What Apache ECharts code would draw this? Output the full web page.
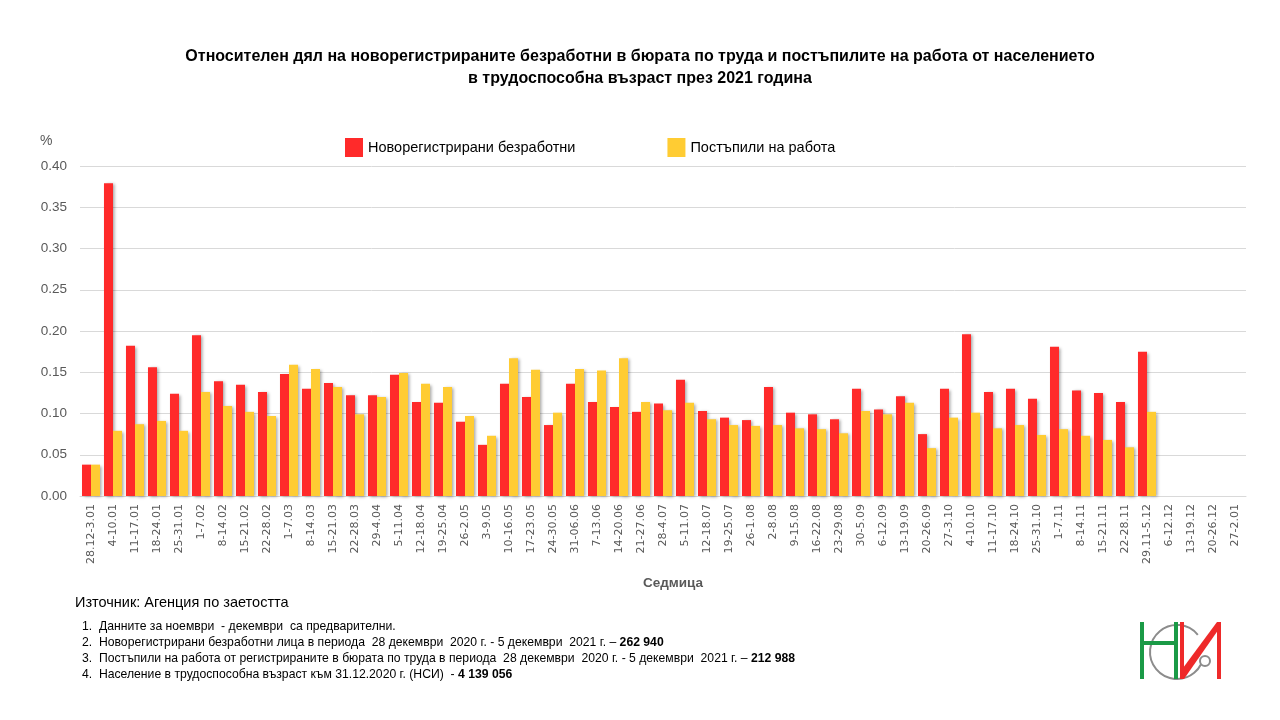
<!DOCTYPE html>
<html><head><meta charset="utf-8">
<script src="https://cdn.jsdelivr.net/npm/echarts@6/dist/echarts.min.js"></script>
<style>html,body{margin:0;padding:0;background:#fff}#c{width:1280px;height:720px}</style>
</head><body><div id="c"></div>
<script>
const categories = ['28.12-3.01','4-10.01','11-17.01','18-24.01','25-31.01','1-7.02','8-14.02','15-21.02','22-28.02','1-7.03','8-14.03','15-21.03','22-28.03','29-4.04','5-11.04','12-18.04','19-25.04','26-2.05','3-9.05','10-16.05','17-23.05','24-30.05','31-06.06','7-13.06','14-20.06','21-27.06','28-4.07','5-11.07','12-18.07','19-25.07','26-1.08','2-8.08','9-15.08','16-22.08','23-29.08','30-5.09','6-12.09','13-19.09','20-26.09','27-3.10','4-10.10','11-17.10','18-24.10','25-31.10','1-7.11','8-14.11','15-21.11','22-28.11','29.11-5.12','6-12.12','13-19.12','20-26.12','27-2.01'];
const unemployed = [0.038,0.379,0.182,0.156,0.124,0.195,0.139,0.135,0.126,0.148,0.130,0.137,0.122,0.122,0.147,0.114,0.113,0.090,0.062,0.136,0.120,0.086,0.136,0.114,0.108,0.102,0.112,0.141,0.103,0.095,0.092,0.132,0.101,0.099,0.093,0.130,0.105,0.121,0.075,0.130,0.196,0.126,0.130,0.118,0.181,0.128,0.125,0.114,0.175,null,null,null,null];
const employed = [0.038,0.079,0.087,0.091,0.079,0.126,0.109,0.102,0.097,0.159,0.154,0.132,0.099,0.120,0.149,0.136,0.132,0.097,0.073,0.167,0.153,0.101,0.154,0.152,0.167,0.114,0.104,0.113,0.093,0.086,0.085,0.086,0.082,0.081,0.076,0.103,0.099,0.113,0.058,0.095,0.101,0.082,0.086,0.074,0.081,0.073,0.068,0.059,0.102,null,null,null,null];
const seriesNames = ['Новорегистрирани безработни','Постъпили на работа'];
const yTicks = [0,0.05,0.10,0.15,0.20,0.25,0.30,0.35,0.40];

const chart = echarts.init(document.getElementById('c'));
const shadow = {shadowColor:'rgba(0,0,0,0.35)',shadowBlur:3,shadowOffsetX:2,shadowOffsetY:1};
const narrow = '"Liberation Sans Narrow","Liberation Sans",sans-serif';
chart.setOption({
  animation:false,
  backgroundColor:'#fff',
  title:{
    text:'Относителен дял на новорегистрираните безработни в бюрата по труда и постъпилите на работа от населението\nв трудоспособна възраст през 2021 година',
    left:'center', top:41,
    textStyle:{fontFamily:'"Liberation Sans",sans-serif',fontWeight:'bold',fontSize:16,color:'#000',lineHeight:22}
  },
  legend:{
    data:seriesNames, top:133, left:340, itemGap:92, itemWidth:18, itemHeight:19, icon:'rect',
    textStyle:{fontFamily:'"Liberation Sans",sans-serif',fontSize:14.5,color:'#000'}
  },
  grid:{left:80,right:34,top:166,bottom:224},
  xAxis:{
    type:'category', data:categories,
    axisLine:{lineStyle:{color:'#d9d9d9'}}, axisTick:{show:false},
    axisLabel:{rotate:90,interval:0,fontSize:11,color:'#595959',fontFamily:'"DejaVu Sans",sans-serif'}
  },
  yAxis:{
    type:'value', min:0, max:0.4, interval:0.05,
    axisLabel:{formatter:v=>v.toFixed(2),fontSize:13.5,color:'#595959',fontFamily:'"Liberation Sans",sans-serif',margin:13},
    splitLine:{lineStyle:{color:'#d9d9d9'}}, axisLine:{show:false}, axisTick:{show:false}
  },
  series:[
    {name:seriesNames[0],type:'bar',data:unemployed,barGap:'0%',barCategoryGap:'18%',itemStyle:Object.assign({color:'#ff2a2a'},shadow)},
    {name:seriesNames[1],type:'bar',data:employed,itemStyle:Object.assign({color:'#ffcc33'},shadow)}
  ],
  graphic:[
    {type:'text',left:40,top:134,style:{text:'%',fontSize:14,fill:'#595959',fontFamily:'"Liberation Sans",sans-serif'}},
    {type:'text',left:643,top:576,style:{text:'Седмица',fontSize:13.5,fontWeight:'bold',fill:'#595959',fontFamily:'"Liberation Sans",sans-serif'}},
    {type:'text',left:75,top:595,style:{text:'Източник: Агенция по заетостта',fontSize:14.5,fill:'#000',fontFamily:'"Liberation Sans",sans-serif'}},
    {type:'text',left:82,top:618,style:{
      text:'1.  Данните за ноември  - декември  са предварителни.\n'+
           '2.  Новорегистрирани безработни лица в периода  28 декември  2020 г. - 5 декември  2021 г. – {b|262 940}\n'+
           '3.  Постъпили на работа от регистрираните в бюрата по труда в периода  28 декември  2020 г. - 5 декември  2021 г. – {b|212 988}\n'+
           '4.  Население в трудоспособна възраст към 31.12.2020 г. (НСИ)  - {b|4 139 056}',
      fontSize:12.2,lineHeight:16.3,fill:'#000',fontFamily:narrow,
      rich:{b:{fontWeight:'bold',fontSize:12.2,fontFamily:narrow,fill:'#000'}}
    }},
    // logo
    {type:'group',left:1140,top:622,children:[
      {type:'arc',shape:{cx:40,cy:32,r:27,startAngle:-Math.PI*0.22,endAngle:Math.PI*0.15,clockwise:false},style:{stroke:'#8c8c8c',lineWidth:2,fill:null}},
      {type:'circle',shape:{cx:68,cy:41,r:5},style:{stroke:'#8c8c8c',lineWidth:2,fill:'#fff'}},
      {type:'rect',shape:{x:3,y:2,width:4,height:57},style:{fill:'#1a9a46'}},
      {type:'rect',shape:{x:37,y:2,width:4,height:57},style:{fill:'#1a9a46'}},
      {type:'rect',shape:{x:7,y:21,width:30,height:4},style:{fill:'#1a9a46'}},
      {type:'rect',shape:{x:43,y:2,width:4,height:57},style:{fill:'#ee2a2a'}},
      {type:'rect',shape:{x:80,y:2,width:4,height:57},style:{fill:'#ee2a2a'}},
      {type:'polygon',shape:{points:[[43,59],[47,59],[84,6],[84,2],[80,2],[43,52]]},style:{fill:'#ee2a2a'}}
    ]}
  ]
});
</script></body></html>
